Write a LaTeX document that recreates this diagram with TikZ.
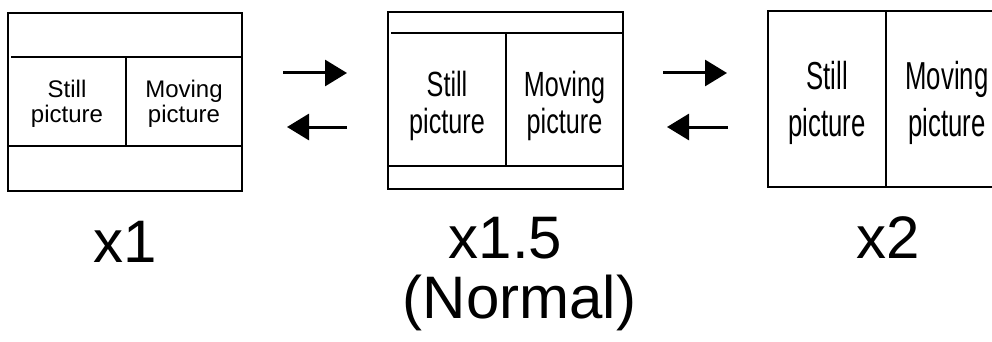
\documentclass[tikz,border=0pt]{standalone}
\usepackage{fontspec}
\setmainfont{Liberation Sans}
\newfontfamily\fA{Liberation Sans}
\newfontfamily\fB[FakeStretch=0.72]{Liberation Sans}
\newfontfamily\fC[FakeStretch=0.66]{Liberation Sans}
\usetikzlibrary{arrows.meta}
\begin{document}
\begin{tikzpicture}[x=1pt,y=-1pt,
  outer/.style={draw,line width=2.6pt,inner sep=0pt},
  inner/.style={line width=1.3pt},
  txtA/.style={anchor=base,inner sep=0pt,font=\fA\fontsize{24}{24}\selectfont},
  txtB/.style={anchor=base,inner sep=0pt,font=\fB\fontsize{35}{35}\selectfont},
  txtC/.style={anchor=base,inner sep=0pt,font=\fC\fontsize{39}{39}\selectfont},
  lab/.style={anchor=base,inner sep=0pt,font=\fA\fontsize{60}{60}\selectfont},
  arr/.style={line width=3pt,-{Triangle[length=22pt 0,width=26pt 0]}}]
\clip (0,0) rectangle (992,342);
\useasboundingbox (0,0) rectangle (992,342);
% box 1
\draw[outer] (8,13) rectangle (242,191);
\draw[inner] (11,57) -- (242,57);
\draw[inner] (8,146) -- (242,146);
\draw[inner] (126,57) -- (126,146);
\node[txtA] (s1a) at (67,98) {Still};
\node[txtA] (s1b) at (67,122) {picture};
\node[txtA] (m1a) at (184,98) {Moving};
\node[txtA] (m1b) at (184,122) {picture};
% box 2
\draw[outer] (388,12) rectangle (623,189);
\draw[inner] (391,33) -- (623,33);
\draw[inner] (388,166) -- (623,166);
\draw[inner] (506,33) -- (506,166);
\node[txtB] (s2a) at (447,97) {Still};
\node[txtB] (s2b) at (447,133) {picture};
\node[txtB] (m2a) at (564.5,97) {Moving};
\node[txtB] (m2b) at (564.5,133) {picture};
% box 3
\draw[outer] (768,11) rectangle (1008,187);
\draw[inner] (886,11) -- (886,187);
\node[txtC] (s3a) at (827,90) {Still};
\node[txtC] (s3b) at (827,136) {picture};
\node[txtC] (m3a) at (947,90) {Moving};
\node[txtC] (m3b) at (947,136) {picture};
% arrows
\coordinate (a1s) at (283,73); \coordinate (a1e) at (347,73);
\coordinate (a2s) at (347,127); \coordinate (a2e) at (287,127);
\coordinate (a3s) at (663,73); \coordinate (a3e) at (727,73);
\coordinate (a4s) at (728,127); \coordinate (a4e) at (667,127);
\draw[arr] (a1s) -- (a1e);
\draw[arr] (a2s) -- (a2e);
\draw[arr] (a3s) -- (a3e);
\draw[arr] (a4s) -- (a4e);
% labels
\node[lab] (l1) at (125,262) {x1};
\node[lab] (l2) at (505.5,258) {x1.5};
\node[lab] (l2b) at (519.5,318) {(Normal)};
\node[lab] (l3) at (888,258) {x2};
\end{tikzpicture}
\end{document}
